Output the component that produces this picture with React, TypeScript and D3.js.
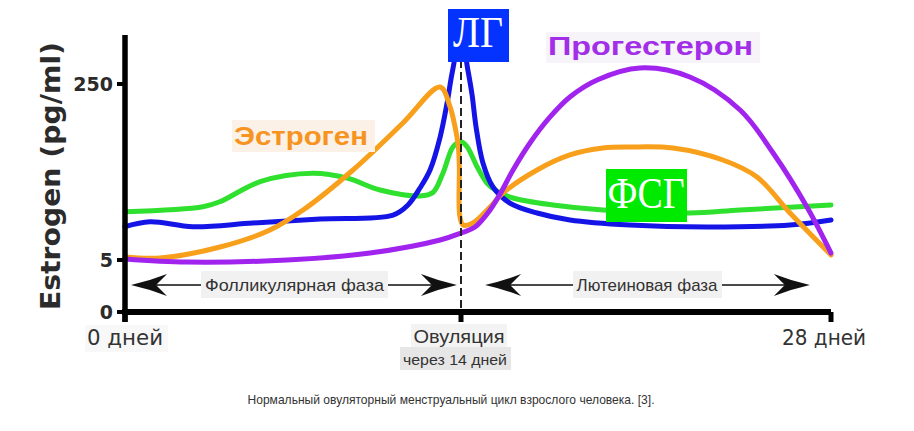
import React from "react";
import * as d3 from "d3";

const W = 914;
const H = 431;

// x domain in days of the cycle, y in estrogen units (pg/ml, schematic)
const dayTicks = [0, 14, 28];
const dayLabels = ["0 дней", "Овуляция", "28 дней"];
const ovulationNote = "через 14 дней";
const yTicks = [0, 5, 250];
const yTitle = "Estrogen (pg/ml)";
const caption = "Нормальный овуляторный менструальный цикл взрослого человека. [3].";

const fsh: [number, number][] = [
  [0, 72.2], [3.25, 79.2], [3.96, 86.2], [5.63, 114], [7.83, 125.7], [9.25, 119.1],
  [10.63, 102.4], [12.29, 94.1], [12.83, 99], [13.25, 126.1], [13.67, 162.7], [14, 169.7],
  [14.23, 162.7], [14.61, 134.9], [14.98, 112.2], [15.36, 101], [15.97, 91.3],
  [17.48, 81.6], [19.37, 74.6], [22.66, 70.4], [24.56, 74.6], [28, 81.6],
];

const lh: [number, number][] = [
  [0, 51.4], [1.04, 58.3], [2.83, 51.4], [5.33, 56.5], [8.13, 62.1], [11.17, 67.6],
  [11.79, 81.6], [12.29, 105.2], [12.71, 130.3], [13.13, 176.2], [13.42, 223.5],
  [13.63, 265.3], [14, 318], [14.26, 269.5], [14.42, 234.7], [14.57, 190.1],
  [14.83, 140], [15.21, 106.6], [15.85, 84.3], [16.88, 70.4], [18.12, 60.7],
  [20.39, 53.7], [23.31, 50.9], [26.45, 53.7], [28, 60.7],
];

const estrogen: [number, number][] = [
  [0, 9.2], [1.46, 7.8], [3.96, 23.1], [6.04, 46.8], [7.42, 74.6], [9.5, 130.3],
  [11.58, 195.7], [13.13, 245.8], [13.54, 218.4], [13.75, 190.6], [13.89, 162.7],
  [13.93, 134.9], [13.95, 66.2], [14.08, 53.7], [14.45, 56.5], [15.1, 78.8],
  [15.59, 98.3], [16.88, 130.3], [18.12, 151.2], [19.37, 160.9], [20.39, 162.3],
  [22.02, 160.9], [23.91, 144.2], [25.2, 120.5], [26.45, 70.4], [28, 12],
];

const progesterone: [number, number][] = [
  [0, 6.4], [2.58, 4.8], [6.75, 5], [10.21, 14.7], [13.13, 32.8], [14, 42.6],
  [14.53, 50.9], [15.1, 74.6], [15.48, 96.9], [15.97, 130.3], [16.61, 167.9],
  [17.37, 204.1], [18.12, 231.9], [19.15, 255.6], [20.77, 272.3], [22.66, 259.7],
  [24.56, 213.8], [25.81, 153.9], [27.09, 78.8], [28, 14.7],
];

const phaseNames = ["Фолликулярная фаза", "Лютеиновая фаза"];
const phaseFrom = [0.25, 14.91];
const phaseTo = [13.83, 27.2];
const phaseMid = [7.06, 21.04];

const x = d3.scaleLinear().domain([0, 14, 28]).range([125, 461, 831]);
const y = d3.scaleLinear().domain([0, 5, 250]).range([312, 260, 84]);

const line = d3
  .line<[number, number]>()
  .x((d) => x(d[0]))
  .y((d) => y(d[1]))
  .curve(d3.curveCatmullRom.alpha(0.5));

const sans = "'Liberation Sans', Arial, sans-serif";
const dejavu = "'DejaVu Sans', Verdana, sans-serif";
const serif = "'Liberation Serif', 'Times New Roman', serif";

function arrowHead(tx: number, ty: number, dir: number) {
  const p = d3.path();
  p.moveTo(tx, ty);
  p.quadraticCurveTo(tx - dir * 18, ty - 4, tx - dir * 36, ty - 11);
  p.lineTo(tx - dir * 25, ty);
  p.lineTo(tx - dir * 36, ty + 11);
  p.quadraticCurveTo(tx - dir * 18, ty + 4, tx, ty);
  p.closePath();
  return p.toString();
}

export default function App() {
  const yAxisX = x(0);
  const xAxisY = y(0);
  const ovX = x(14);
  const arrowY = 285;
  const phaseBg = [
    [201, 187],
    [573, 149],
  ];
  const phaseLen = [179, 141];

  return (
    <svg
      width={W}
      height={H}
      style={{ position: "absolute", left: 0, top: 0, background: "#fff" }}
    >
      {/* curves */}
      <g fill="none" strokeWidth={5} strokeLinecap="round" strokeLinejoin="round">
        <path d={line(fsh) || ""} stroke="#2fe02f" />
        <path d={line(lh) || ""} stroke="#1414e6" />
        <path d={line(estrogen) || ""} stroke="#f8a01c" />
        <path d={line(progesterone) || ""} stroke="#a024ee" />
      </g>

      {/* ovulation dashed line */}
      <line x1={ovX} x2={ovX} y1={60} y2={xAxisY} stroke="#222" strokeWidth={2} strokeDasharray="8,4" />

      {/* axes */}
      <line x1={yAxisX} x2={yAxisX} y1={35} y2={322} stroke="#000" strokeWidth={5.5} />
      <line x1={yAxisX - 3} x2={x(28)} y1={xAxisY} y2={xAxisY} stroke="#000" strokeWidth={6} />
      {dayTicks.map((d) => (
        <line key={"xt" + d} x1={x(d)} x2={x(d)} y1={xAxisY} y2={322} stroke="#000" strokeWidth={5} />
      ))}
      {yTicks.map((t) => (
        <g key={"yt" + t}>
          <line x1={yAxisX - 8} x2={yAxisX} y1={y(t)} y2={y(t)} stroke="#000" strokeWidth={4} />
          <text
            x={yAxisX - 12}
            y={y(t) + 7}
            textAnchor="end"
            fontFamily={dejavu}
            fontWeight="bold"
            fontSize={19}
            fill="#2b2b2b"
          >
            {t}
          </text>
        </g>
      ))}

      {/* y title */}
      <text
        transform={`translate(60,176) rotate(-90)`}
        textAnchor="middle"
        fontFamily={dejavu}
        fontWeight="bold"
        fontSize={27}
        fill="#2b2b2b"
        textLength={268}
        lengthAdjust="spacingAndGlyphs"
      >
        {yTitle}
      </text>

      {/* phase arrows */}
      {phaseNames.map((name, i) => {
        const a = x(phaseFrom[i]);
        const b = x(phaseTo[i]);
        const m = x(phaseMid[i]);
        return (
          <g key={name}>
            <line x1={a + 20} x2={b - 20} y1={arrowY} y2={arrowY} stroke="#4a4a4a" strokeWidth={2} />
            <path d={arrowHead(a, arrowY, -1)} fill="#111" />
            <path d={arrowHead(b, arrowY, 1)} fill="#111" />
            <rect x={phaseBg[i][0]} y={271} width={phaseBg[i][1]} height={27} fill="#f1f1f1" />
            <text
              x={m}
              y={arrowY + 6}
              textAnchor="middle"
              fontFamily={sans}
              fontSize={17}
              fill="#333"
              textLength={phaseLen[i]}
              lengthAdjust="spacingAndGlyphs"
            >
              {name}
            </text>
          </g>
        );
      })}

      {/* x labels */}
      <rect x={85} y={325} width={83} height={27} fill="#f8f8f8" />
      <text x={87} y={345} fontFamily={dejavu} fontSize={21} fill="#333" textLength={76} lengthAdjust="spacingAndGlyphs">
        {dayLabels[0]}
      </text>
      <rect x={411} y={324} width={96} height={24} fill="#f3f3f3" />
      <rect x={400} y={347} width={111} height={23} fill="#e6e6e6" />
      <text
        x={ovX - 2}
        y={343}
        textAnchor="middle"
        fontFamily={sans}
        fontSize={19}
        fill="#333"
        textLength={91}
        lengthAdjust="spacingAndGlyphs"
      >
        {dayLabels[1]}
      </text>
      <text
        x={ovX - 6}
        y={365}
        textAnchor="middle"
        fontFamily={sans}
        fontSize={15.5}
        fill="#333"
        textLength={104}
        lengthAdjust="spacingAndGlyphs"
      >
        {ovulationNote}
      </text>
      <text x={782} y={345} fontFamily={dejavu} fontSize={21} fill="#333" textLength={84} lengthAdjust="spacingAndGlyphs">
        {dayLabels[2]}
      </text>

      {/* hormone labels */}
      <rect x={232} y={120} width={143} height={32} fill="#fcf1e6" />
      <text
        x={234}
        y={145}
        fontFamily={sans}
        fontWeight="bold"
        fontSize={25}
        fill="#f6941f"
        textLength={134}
        lengthAdjust="spacingAndGlyphs"
      >
        Эстроген
      </text>
      <rect x={546} y={32} width={214} height={31} fill="#f6f3f9" />
      <text
        x={548}
        y={55}
        fontFamily={sans}
        fontWeight="bold"
        fontSize={25}
        fill="#a22ee8"
        textLength={205}
        lengthAdjust="spacingAndGlyphs"
      >
        Прогестерон
      </text>

      <rect x={448} y={9} width={61} height={53} fill="#0433ff" />
      <text
        x={478}
        y={47}
        textAnchor="middle"
        fontFamily={serif}
        fontSize={44}
        fill="#fff"
        textLength={50}
        lengthAdjust="spacingAndGlyphs"
      >
        ЛГ
      </text>
      <rect x={606} y={169} width={81} height={53} fill="#00ea00" />
      <text
        x={646}
        y={208}
        textAnchor="middle"
        fontFamily={serif}
        fontSize={44}
        fill="#fff"
        textLength={77}
        lengthAdjust="spacingAndGlyphs"
      >
        ФСГ
      </text>

      {/* caption */}
      <text
        x={451}
        y={404}
        textAnchor="middle"
        fontFamily={sans}
        fontSize={13}
        fill="#333"
        textLength={407}
        lengthAdjust="spacingAndGlyphs"
      >
        {caption}
      </text>
    </svg>
  );
}
